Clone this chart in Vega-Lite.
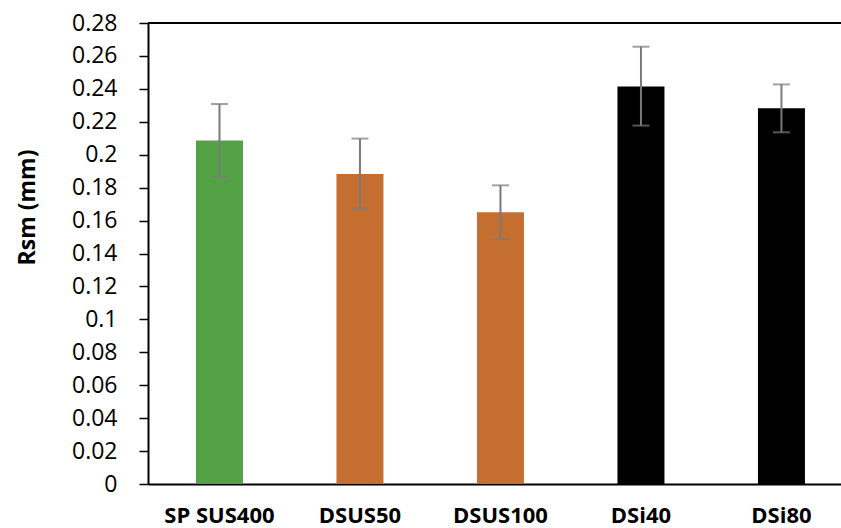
{
  "$schema": "https://vega.github.io/schema/vega-lite/v6.json",
  "autosize": "none",
  "width": 693,
  "height": 461,
  "padding": {"left": 148, "top": 23, "right": 0, "bottom": 44},
  "background": "white",
  "config": {
    "view": {"stroke": null},
    "axisY": {
      "tickCount": 14,
      "format": "~g",
      "labelOverlap": false,
      "labelFont": "Open Sans",
      "labelFontSize": 23,
      "labelColor": "black",
      "labelPadding": 22,
      "tickColor": "black",
      "tickSize": 9,
      "tickWidth": 1.5,
      "domainColor": "black",
      "domainWidth": 2,
      "grid": false,
      "titleFont": "Open Sans",
      "titleFontSize": 23,
      "titleFontWeight": "bold",
      "titleColor": "black",
      "titlePadding": 32,
      "titleY": 184
    },
    "axisX": {
      "labelAngle": 0,
      "labelFont": "Open Sans",
      "labelFontSize": 22,
      "labelFontWeight": "bold",
      "labelColor": "black",
      "labelPadding": 21,
      "ticks": false,
      "domainColor": "black",
      "domainWidth": 2
    }
  },
  "data": {
    "values": [
      {"group": "SP SUS400", "rsm": 0.2087, "lo": 0.1868, "hi": 0.2308, "colour": "#55a146"},
      {"group": "DSUS50", "rsm": 0.1883, "lo": 0.1673, "hi": 0.2098, "colour": "#c46f30"},
      {"group": "DSUS100", "rsm": 0.1650, "lo": 0.1487, "hi": 0.1814, "colour": "#c46f30"},
      {"group": "DSi40", "rsm": 0.2415, "lo": 0.2177, "hi": 0.2656, "colour": "#000000"},
      {"group": "DSi80", "rsm": 0.2282, "lo": 0.2136, "hi": 0.2427, "colour": "#000000"}
    ]
  },
  "encoding": {
    "x": {
      "field": "group",
      "type": "nominal",
      "sort": null,
      "title": null,
      "scale": {"paddingInner": 0.6655, "paddingOuter": 0.299, "align": 0.571}
    }
  },
  "layer": [
    {
      "mark": {"type": "bar"},
      "encoding": {
        "y": {
          "field": "rsm",
          "type": "quantitative",
          "title": "Rsm (mm)",
          "scale": {"domain": [0, 0.28], "nice": false}
        },
        "color": {"field": "colour", "type": "nominal", "scale": null}
      }
    },
    {
      "mark": {"type": "rule", "color": "#7a7a7a", "strokeWidth": 2},
      "encoding": {
        "y": {"field": "lo", "type": "quantitative", "title": "Rsm (mm)"},
        "y2": {"field": "hi"}
      }
    },
    {
      "mark": {"type": "tick", "color": "#7a7a7a", "size": 17, "thickness": 2, "orient": "horizontal"},
      "encoding": {"y": {"field": "lo", "type": "quantitative", "title": "Rsm (mm)"}}
    },
    {
      "mark": {"type": "tick", "color": "#7a7a7a", "size": 17, "thickness": 2, "orient": "horizontal"},
      "encoding": {"y": {"field": "hi", "type": "quantitative", "title": "Rsm (mm)"}}
    },
    {
      "mark": {"type": "rule", "color": "black", "strokeWidth": 1.5},
      "encoding": {"y": {"datum": 0.28, "title": "Rsm (mm)"}, "x": {"value": 0}, "x2": {"value": 693}}
    }
  ]
}
